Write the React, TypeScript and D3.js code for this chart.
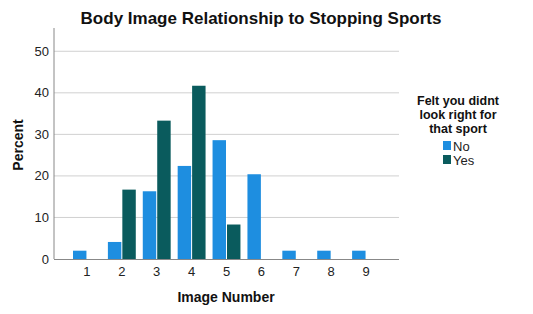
import React from "react";
import * as d3 from "d3";

const categories = ["1", "2", "3", "4", "5", "6", "7", "8", "9"];
const groups = ["No", "Yes"];
const noValues = [2.0, 4.1, 16.3, 22.4, 28.6, 20.4, 2.0, 2.0, 2.0];
const yesValues = [0, 16.7, 33.3, 41.7, 8.3, 0, 0, 0, 0];
const yTicks = [0, 10, 20, 30, 40, 50];
const legendTitle = ["Felt you didnt", "look right for", "that sport"];

const W = 533;
const H = 314;
const colors: Record<string, string> = { No: "#1e8ee0", Yes: "#0a5b5d" };
const font = "'Liberation Sans', Arial, sans-serif";

export default function App() {
  const left = 54;
  const right = 399;
  const top = 28;
  const bottom = 259;

  const y = d3.scaleLinear().domain([0, 55.6]).range([bottom, top]);
  const x = d3
    .scaleBand<string>()
    .domain(categories)
    .range([left + 15.5, right - 15.5])
    .padding(0);
  const inner = d3
    .scaleBand<string>()
    .domain(groups)
    .range([3.5, x.bandwidth() - 3.5])
    .paddingInner(0.07);

  const series: Record<string, number[]> = { No: noValues, Yes: yesValues };

  return (
    <svg
      width={W}
      height={H}
      style={{ position: "absolute", left: 0, top: 0, background: "#fff" }}
      fontFamily={font}
    >
      <rect width={W} height={H} fill="#fff" />
      <text x={261} y={24} textAnchor="middle" fontSize={17} fontWeight="bold" fill="#111">
        Body Image Relationship to Stopping Sports
      </text>

      {yTicks.map((t) => (
        <g key={t}>
          {t > 0 && (
            <line x1={left} x2={right} y1={y(t)} y2={y(t)} stroke="#d0d0d0" strokeWidth={1} />
          )}
          <text x={49} y={y(t) + 4.5} textAnchor="end" fontSize={13} fill="#222">
            {t}
          </text>
        </g>
      ))}

      {categories.map((c, i) =>
        groups.map((g) => {
          const v = series[g][i];
          if (!v) return null;
          return (
            <rect
              key={c + g}
              x={(x(c) ?? 0) + (inner(g) ?? 0)}
              y={y(v)}
              width={inner.bandwidth()}
              height={bottom - y(v)}
              fill={colors[g]}
            />
          );
        })
      )}

      <line x1={left} x2={left} y1={top} y2={bottom} stroke="#888" strokeWidth={1} />
      <line x1={left} x2={right} y1={bottom + 0.5} y2={bottom + 0.5} stroke="#888" strokeWidth={1} />

      {categories.map((c) => (
        <text
          key={c}
          x={(x(c) ?? 0) + x.bandwidth() / 2}
          y={276}
          textAnchor="middle"
          fontSize={13}
          fill="#222"
        >
          {c}
        </text>
      ))}

      <text x={226} y={302} textAnchor="middle" fontSize={14} fontWeight="bold" fill="#111">
        Image Number
      </text>
      <text
        transform="translate(23,145) rotate(-90)"
        textAnchor="middle"
        fontSize={14}
        fontWeight="bold"
        fill="#111"
      >
        Percent
      </text>

      {legendTitle.map((l, i) => (
        <text
          key={l}
          x={458}
          y={105 + i * 14}
          textAnchor="middle"
          fontSize={12.5}
          fontWeight="bold"
          fill="#111"
        >
          {l}
        </text>
      ))}
      {groups.map((g, i) => (
        <g key={g} transform={`translate(443,${141 + i * 14})`}>
          <rect width={8} height={9} fill={colors[g]} />
          <text x={10} y={9.5} fontSize={13} fill="#222">
            {g}
          </text>
        </g>
      ))}
    </svg>
  );
}
